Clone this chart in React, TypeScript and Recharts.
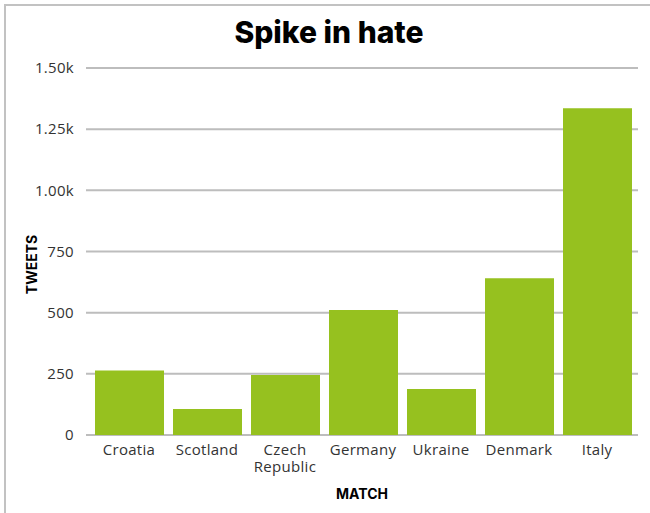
import { Bar, BarChart, CartesianGrid, XAxis, YAxis } from "recharts";

const matches = ["Croatia", "Scotland", "Czech Republic", "Germany", "Ukraine", "Denmark", "Italy"];
const tweets = [264, 106, 245, 511, 188, 641, 1336];
const yTicks = [0, 250, 500, 750, 1000, 1250, 1500];

const data = matches.map((m, i) => ({ match: m, tweets: tweets[i] }));

const FONT = "'Open Sans', 'Noto Sans', sans-serif";
const TITLE_FONT = "Inter, sans-serif";

function fmt(v: number) {
  return v >= 1000 ? `${(v / 1000).toFixed(2)}k` : `${v}`;
}

// wrap multi-word match names onto separate lines
function MatchTick(props: any) {
  const { x, y, payload } = props;
  const lines = String(payload.value).split(" ");
  return (
    <g>
      {lines.map((l, i) => (
        <text
          key={i}
          x={x}
          y={y + 11 + i * 17}
          textAnchor="middle"
          fill="#333"
          fontSize={15}
          fontFamily={FONT}
          letterSpacing={0.3}
        >
          {l}
        </text>
      ))}
    </g>
  );
}

function TweetsLabel(props: any) {
  const { viewBox } = props;
  const cx = viewBox.x + 5;
  const cy = viewBox.y + viewBox.height / 2 + 13;
  return (
    <text
      x={cx}
      y={cy}
      transform={`rotate(-90, ${cx}, ${cy})`}
      textAnchor="middle"
      dominantBaseline="central"
      fill="#000"
      fontSize={14}
      fontWeight={700}
      fontFamily={TITLE_FONT}
    >
      TWEETS
    </text>
  );
}

export default function App() {
  return (
    <div style={{ position: "fixed", left: 0, top: 0, width: 650, height: 513, background: "#fff" }}>
      <div
        style={{
          position: "absolute",
          left: 4,
          top: 4,
          width: 660,
          height: 520,
          borderLeft: "2px solid #c2c2c2",
          borderTop: "2px solid #c2c2c2",
        }}
      />
      <div
        style={{
          position: "absolute",
          left: 0,
          top: 14,
          width: 658,
          textAlign: "center",
          fontSize: 30,
          fontWeight: 800,
          color: "#000",
          lineHeight: "36px",
          fontFamily: TITLE_FONT,
        }}
      >
        Spike in hate
      </div>
      <div style={{ position: "absolute", left: 0, top: 0 }}>
        <BarChart width={650} height={513} data={data} margin={{ top: 68, right: 12, left: 26, bottom: 0 }}>
          <CartesianGrid vertical={false} stroke="#bdbdbd" strokeWidth={2} />
          <XAxis
            dataKey="match"
            axisLine={false}
            tickLine={false}
            tickSize={0}
            tickMargin={9}
            padding={{ left: 4, right: 2 }}
            interval={0}
            tick={<MatchTick />}
            label={{ value: "MATCH", position: "insideBottom", offset: 14, fill: "#000", fontSize: 14, fontWeight: 700, fontFamily: TITLE_FONT }}
            height={78}
          />
          <YAxis
            domain={[0, 1500]}
            ticks={yTicks}
            tickFormatter={fmt}
            axisLine={false}
            tickLine={false}
            tickSize={0}
            tickMargin={12}
            width={60}
            tick={{ fill: "#333", fontSize: 15, fontFamily: FONT, letterSpacing: 0.3 }}
            label={<TweetsLabel />}
          />
          <Bar dataKey="tweets" fill="#96c11f" barSize={69} isAnimationActive={false} />
        </BarChart>
      </div>
    </div>
  );
}
